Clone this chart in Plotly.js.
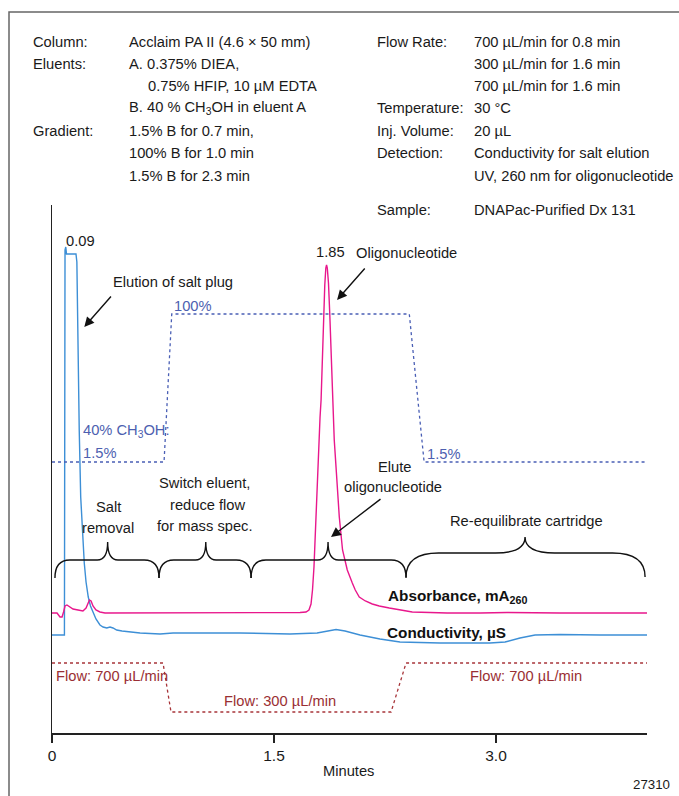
<!DOCTYPE html>
<html><head><meta charset="utf-8">
<script src="https://cdn.plot.ly/plotly-3.0.1.min.js"></script>
<style>html,body{margin:0;padding:0;background:#fff}#chart{width:679px;height:796px}</style>
</head><body><div id="chart"></div>
<script>
// ---- data (time in minutes; detector signals in arbitrary units) ----
const condTime = [0,0.068,0.084,0.088,0.093,0.098,0.162,0.168,0.174,0.179,0.184,0.194,0.205,0.218,0.230,0.245,0.260,0.279,0.297,0.324,0.345,0.370,0.392,0.412,0.437,0.473,0.527,0.595,0.730,0.818,1.270,1.608,1.791,1.878,1.919,1.980,2.081,2.216,2.351,2.622,2.959,3.061,3.162,3.264,3.432,3.703,4.020];
const condSignal = [98,98,98,483,486,479,479,471,403,343,303,236,203,170,151,136,127,120,114,108,106,105,106,105,103,102,101,100,99,100,100,99,100,102.5,103.5,102,98,94,91,90,90,91,95,98,98.5,98,98];

const absTime = [0,0.034,0.054,0.068,0.078,0.088,0.101,0.122,0.142,0.176,0.209,0.230,0.243,0.253,0.264,0.277,0.297,0.324,0.358,0.662,1.0,1.338,1.676,1.716,1.736,1.750,1.760,1.770,1.780,1.789,1.799,1.811,1.818,1.824,1.833,1.843,1.850,1.855,1.860,1.868,1.877,1.885,1.896,1.907,1.919,1.927,1.941,1.963,1.981,1.995,2.029,2.049,2.076,2.117,2.164,2.211,2.279,2.346,2.434,2.554,2.669,2.892,3.074,3.432,3.703,4.020];
const absSignal = [120,120,116,116,121,127,128,126,124,123,122,125,130,133,132,127,123,121,120,120,120,120,120.5,121,123,129,143,166,203,233,283,316,333,363,416,448,465,468,465,450,418,383,333,293,266,243,216,183,170,163,150,143,136,132,129,127,125,123,121,120.5,120,120,120.5,120,120,120];

const gradTime = [0,0.757,0.809,2.414,2.514,4.02];
const gradPctB = [1.5,1.5,100,100,1.5,1.5];

const flowTime = [0,0.750,0.804,2.291,2.392,4.02];
const flowRate = [700,700,300,300,700,700];

const tickVals = [0,1.5,3.0];
const tickText = ['0','1.5','3.0'];

// step braces (minutes)
const braceStart = [0.02,0.723,1.345,2.392];
const braceMid   = [0.376,1.039,1.865,3.196];
const braceEnd   = [0.723,1.345,2.392,4.007];

// ---- layout helpers ----
const FONT = "'Liberation Sans',Arial,Helvetica,sans-serif";
const FS = 14.7;
const L=52, R=32, T=205, B=63, W=679, H=796;
const PW=W-L-R, PH=H-T-B;
const px = v => (v-L)/PW;
const py = v => (H-B-v)/PH;
function txt(text, x, y, anchor, size, color, extra){
  return Object.assign({xref:'paper',yref:'paper',x:px(x),y:py(y),xanchor:anchor||'left',yanchor:'middle',
    text:text,showarrow:false,borderpad:0,font:{family:FONT,size:size||FS,color:color||'#1a1a1a'}},extra||{});
}
function arrow(t, v, ax, ay){
  return {xref:'x',yref:'y',x:t,y:v,ax:ax,ay:ay,text:'',showarrow:true,arrowhead:2,arrowsize:1.4,arrowwidth:1.4,arrowcolor:'#111'};
}
function bracePath(x0,xm,x1,yb,yt,yc,r,rc){
  return `M ${x0},${yt} Q ${x0},${yb} ${x0+r},${yb} L ${xm-rc},${yb} Q ${xm},${yb} ${xm},${yc} Q ${xm},${yb} ${xm+rc},${yb} L ${x1-r},${yb} Q ${x1},${yb} ${x1},${yt}`;
}

const BLUE_TXT = '#4d5fb0', RED_TXT = '#9a2f33';

const annotations = [
  // header
  txt('Column:',32,42), txt('Acclaim PA II (4.6 × 50 mm)',128,42),
  txt('Eluents:',32,64), txt('A. 0.375% DIEA,',128,64),
  txt('0.75% HFIP, 10 µM EDTA',147,86),
  txt('B. 40 % CH<sub>3</sub>OH in eluent A',128,108),
  txt('Gradient:',32,131), txt('1.5% B for 0.7 min,',128,131),
  txt('100% B for 1.0 min',128,153),
  txt('1.5% B for 2.3 min',128,176),
  txt('Flow Rate:',376,42), txt('700 µL/min for 0.8 min',473,42),
  txt('300 µL/min for 1.6 min',473,64),
  txt('700 µL/min for 1.6 min',473,86),
  txt('Temperature:',376,108), txt('30 °C',473,108),
  txt('Inj. Volume:',376,131), txt('20 µL',473,131),
  txt('Detection:',376,153), txt('Conductivity for salt elution',473,153),
  txt('UV, 260 nm for oligonucleotide',473,176),
  txt('Sample:',376,210), txt('DNAPac-Purified Dx 131',473,210),
  // chart labels
  txt('0.09',65,241),
  txt('Elution of salt plug',112,282),
  txt('100%',173,306,'left',FS,BLUE_TXT),
  txt('40% CH<sub>3</sub>OH:',82,431,'left',FS,BLUE_TXT),
  txt('1.5%',82,453,'left',FS,BLUE_TXT),
  txt('1.5%',426,454,'left',FS,BLUE_TXT),
  txt('1.85',315,252),
  txt('Oligonucleotide',355,253),
  txt('Elute',395,467,'center'),
  txt('oligonucleotide',393,487,'center'),
  txt('Salt',108,507,'center'),
  txt('removal',108,528,'center'),
  txt('Switch eluent,',205,483,'center'),
  txt('reduce flow',208,505,'center'),
  txt('for mass spec.',205,526,'center'),
  txt('Re-equilibrate cartridge',526,521,'center'),
  txt('<b>Absorbance, mA<sub>260</sub></b>',387,596,'left',15.3,'#111'),
  txt('<b>Conductivity, µS</b>',386,632,'left',15.3,'#111'),
  txt('Flow: 700 µL/min',55,676,'left',FS,RED_TXT),
  txt('Flow: 300 µL/min',223,701,'left',FS,RED_TXT),
  txt('Flow: 700 µL/min',469,676,'left',FS,RED_TXT),
  txt('Minutes',348,771,'center'),
  txt('27310',671,784,'right',13.3),
  // arrows
  arrow(0.218,406,28,-32),
  arrow(1.926,433,29,-33),
  arrow(1.885,196,51,-39)
];

const shapes = [
  {type:'rect',xref:'paper',yref:'paper',x0:px(9),x1:px(700),y0:py(820),y1:py(12),line:{color:'#666',width:1.5},fillcolor:'rgba(0,0,0,0)',layer:'below'}
];
for(let i=0;i<braceStart.length;i++){
  const big = i===3;
  shapes.push({type:'path',xref:'x',yref:'y',
    path: big ? bracePath(braceStart[i],braceMid[i],braceEnd[i],180,156,196,0.22,0.2)
              : bracePath(braceStart[i],braceMid[i],braceEnd[i],173,155,191,0.1,0.07),
    line:{color:'#111',width:1.4}});
}

const traces = [
  {x:gradTime,y:gradPctB,yaxis:'y2',mode:'lines',line:{color:'#4a5fb5',width:1.3,dash:'dot'},hoverinfo:'skip'},
  {x:flowTime,y:flowRate,yaxis:'y3',mode:'lines',line:{color:'#a8353a',width:1.3,dash:'dot'},hoverinfo:'skip'},
  {x:condTime,y:condSignal,mode:'lines',line:{color:'#3d8fd6',width:1.4},hoverinfo:'skip'},
  {x:absTime,y:absSignal,mode:'lines',line:{color:'#e8178c',width:1.4},hoverinfo:'skip'}
];

const layout = {
  width:W,height:H,margin:{l:L,r:R,t:T,b:B},
  paper_bgcolor:'#fff',plot_bgcolor:'#fff',showlegend:false,
  font:{family:FONT,size:FS,color:'#1a1a1a'},
  xaxis:{range:[0,4.02],showgrid:false,zeroline:false,showline:true,linecolor:'#222',linewidth:1.5,
    ticks:'outside',ticklen:8,tickwidth:1.3,tickcolor:'#222',tickvals:tickVals,ticktext:tickText,
    tickfont:{family:FONT,size:15.5,color:'#1a1a1a'},fixedrange:true},
  yaxis:{range:[0,528],showgrid:false,zeroline:false,showline:true,linecolor:'#222',linewidth:1.5,
    showticklabels:false,ticks:'',fixedrange:true},
  yaxis2:{overlaying:'y',range:[-178.86,172.54],visible:false,fixedrange:true},
  yaxis3:{overlaying:'y',range:[128.57,4438.8],visible:false,fixedrange:true},
  annotations:annotations,shapes:shapes
};
Plotly.newPlot('chart',traces,layout,{staticPlot:true,displayModeBar:false});
</script></body></html>
